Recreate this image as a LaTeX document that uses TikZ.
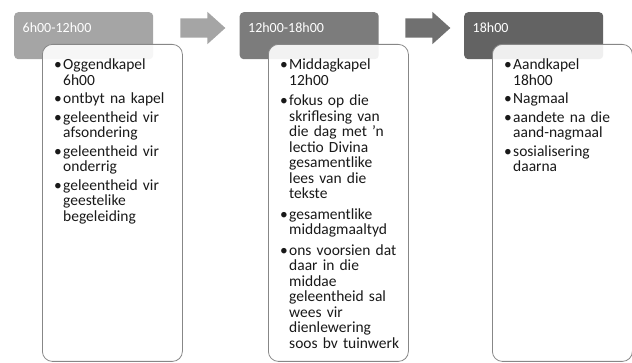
\documentclass[tikz,border=0pt]{standalone}
\usepackage{fontspec}
\setmainfont{Carlito}
\usetikzlibrary{shapes.arrows, calc}
\definecolor{hdrA}{RGB}{165,165,165}
\definecolor{hdrB}{RGB}{124,124,124}
\definecolor{hdrC}{RGB}{99,99,99}
\definecolor{arrB}{RGB}{112,112,112}
\definecolor{rim}{RGB}{135,135,135}
\definecolor{ink}{RGB}{25,25,25}

\newcommand{\itm}[1]{\hangindent=9pt\hangafter=1\noindent\makebox[9pt][l]{\textbullet}#1\par}

\begin{document}
\begin{tikzpicture}[x=1pt, y=1pt,
    hdr/.style={draw=none, rounded corners=4pt, anchor=north west, minimum width=139pt,
        text width=122pt, inner xsep=8.5pt, inner ysep=6pt, text height=14pt, text depth=21pt,
        align=left, text=white, font=\fontsize{14}{16}\selectfont},
    body/.style={draw=rim, line width=0.8pt, fill=white, fill opacity=0.9, rounded corners=10pt,
        anchor=north west, minimum width=140pt, minimum height=317pt, inner sep=0pt},
    bodytext/.style={anchor=base west, inner sep=0pt, text width=135pt, align=left, text=ink,
        font=\fontsize{15.5}{15.5}\selectfont, execute at begin node={\setlength{\parskip}{#1}}},
    bodytext/.default=3pt,
    fwd/.style={single arrow, draw=none, minimum height=45pt, text height=19pt, text depth=0pt,
        single arrow head extend=6.5pt, single arrow tip angle=84, inner sep=0pt}
]
    \useasboundingbox (0,0) rectangle (632,-363);

    % koppe
    \foreach \i/\x/\col/\lbl in {1/14/hdrA/6h00-12h00, 2/239.5/hdrB/12h00-18h00, 3/464/hdrC/18h00} {
        \node[hdr, fill=\col] (h\i) at (\x,-12) {\lbl};
    }

    % blokke
    \foreach \i/\x in {1/42, 2/268, 3/492} {
        \node[body] (b\i) at (\x,-44) {};
    }

    % pyle
    \node[fwd, fill=hdrA] (a1) at ($(h1.north east)!0.5!(h2.north west)+(1,-16)$) {};
    \node[fwd, fill=arrB] (a2) at ($(h2.north east)!0.5!(h3.north west)+(1,-16)$) {};

    % teks
    \node[bodytext] (t1) at ([shift={(12pt,-26pt)}]b1.north west) {
        \itm{Oggendkapel\newline 6h00}
        \itm{ontbyt na kapel}
        \itm{geleentheid vir\newline afsondering}
        \itm{geleentheid vir\newline onderrig}
        \itm{geleentheid vir\newline geestelike\newline begeleiding}
    };
    \node[bodytext=5pt] (t2) at ([shift={(12pt,-26pt)}]b2.north west) {
        \itm{Middagkapel\newline 12h00}
        \itm{fokus op die\newline skriflesing van\newline die dag met 'n\newline lectio Divina\newline gesamentlike\newline lees van die\newline tekste}
        \itm{gesamentlike\newline middagmaaltyd}
        \itm{ons voorsien dat\newline daar in die\newline middae\newline geleentheid sal\newline wees vir\newline dienlewering\newline soos bv tuinwerk}
    };
    \node[bodytext] (t3) at ([shift={(12pt,-26pt)}]b3.north west) {
        \itm{Aandkapel\newline 18h00}
        \itm{Nagmaal}
        \itm{aandete na die\newline aand-nagmaal}
        \itm{sosialisering\newline daarna}
    };
\end{tikzpicture}
\end{document}
